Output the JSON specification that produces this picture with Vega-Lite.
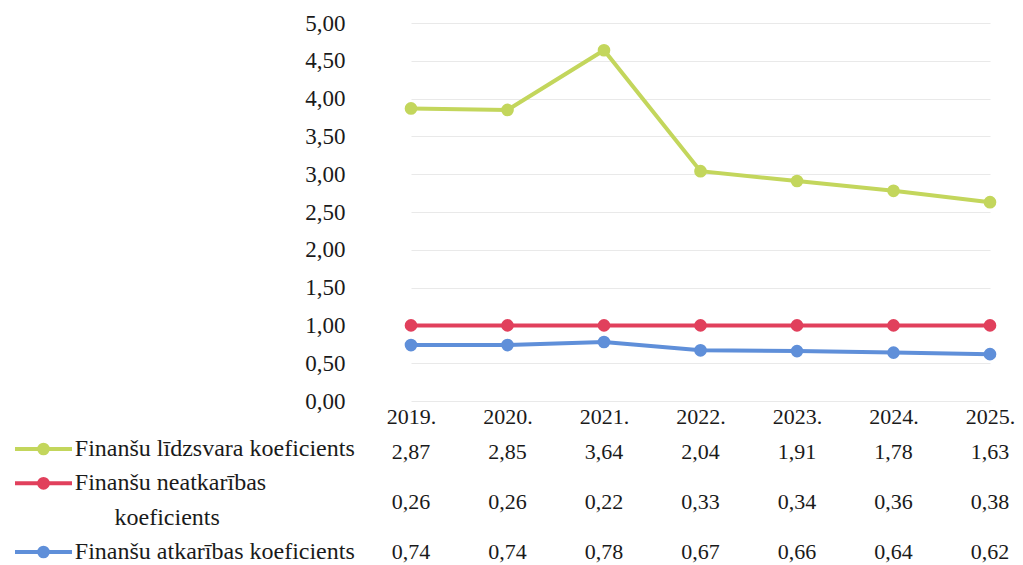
{
  "$schema": "https://vega.github.io/schema/vega-lite/v6.json",
  "autosize": {"type": "none"},
  "width": 663,
  "height": 378,
  "padding": {"left": 360, "top": 23, "right": 0, "bottom": 164},
  "background": "white",
  "config": {"view": {"stroke": null}, "font": "Liberation Serif", "text": {"font": "Liberation Serif"}},
  "datasets": {
    "vals": [
      {"year": "2019.", "series": "Finanšu līdzsvara koeficients", "ord": 3, "value": 2.87},
      {"year": "2019.", "series": "Finanšu neatkarības koeficients", "ord": 2, "value": 0.26},
      {"year": "2019.", "series": "Finanšu atkarības koeficients", "ord": 1, "value": 0.74},
      {"year": "2020.", "series": "Finanšu līdzsvara koeficients", "ord": 3, "value": 2.85},
      {"year": "2020.", "series": "Finanšu neatkarības koeficients", "ord": 2, "value": 0.26},
      {"year": "2020.", "series": "Finanšu atkarības koeficients", "ord": 1, "value": 0.74},
      {"year": "2021.", "series": "Finanšu līdzsvara koeficients", "ord": 3, "value": 3.64},
      {"year": "2021.", "series": "Finanšu neatkarības koeficients", "ord": 2, "value": 0.22},
      {"year": "2021.", "series": "Finanšu atkarības koeficients", "ord": 1, "value": 0.78},
      {"year": "2022.", "series": "Finanšu līdzsvara koeficients", "ord": 3, "value": 2.04},
      {"year": "2022.", "series": "Finanšu neatkarības koeficients", "ord": 2, "value": 0.33},
      {"year": "2022.", "series": "Finanšu atkarības koeficients", "ord": 1, "value": 0.67},
      {"year": "2023.", "series": "Finanšu līdzsvara koeficients", "ord": 3, "value": 1.91},
      {"year": "2023.", "series": "Finanšu neatkarības koeficients", "ord": 2, "value": 0.34},
      {"year": "2023.", "series": "Finanšu atkarības koeficients", "ord": 1, "value": 0.66},
      {"year": "2024.", "series": "Finanšu līdzsvara koeficients", "ord": 3, "value": 1.78},
      {"year": "2024.", "series": "Finanšu neatkarības koeficients", "ord": 2, "value": 0.36},
      {"year": "2024.", "series": "Finanšu atkarības koeficients", "ord": 1, "value": 0.64},
      {"year": "2025.", "series": "Finanšu līdzsvara koeficients", "ord": 3, "value": 1.63},
      {"year": "2025.", "series": "Finanšu neatkarības koeficients", "ord": 2, "value": 0.38},
      {"year": "2025.", "series": "Finanšu atkarības koeficients", "ord": 1, "value": 0.62}
    ],
    "legend": [
      {"series": "Finanšu līdzsvara koeficients", "key": "L"},
      {"series": "Finanšu neatkarības koeficients", "key": "N1"},
      {"series": "Finanšu atkarības koeficients", "key": "A"}
    ],
    "labels": [
      {"key": "L", "text": "Finanšu līdzsvara koeficients"},
      {"key": "N1", "text": "Finanšu neatkarības"},
      {"key": "N2", "text": "koeficients"},
      {"key": "A", "text": "Finanšu atkarības koeficients"}
    ]
  },
  "layer": [
    {
      "data": {"name": "vals"},
      "transform": [
        {"stack": "value", "groupby": ["year"], "sort": [{"field": "ord", "order": "ascending"}], "as": ["v0", "v1"]}
      ],
      "encoding": {
        "x": {
          "field": "year", "type": "ordinal",
          "scale": {"type": "point", "domain": ["2019.", "2020.", "2021.", "2022.", "2023.", "2024.", "2025."], "range": [51, 630], "padding": 0},
          "axis": {"title": null, "domain": false, "ticks": false, "grid": false, "labelFontSize": 22, "labelColor": "#1a1a1a", "labelPadding": 5, "labelFont": "Liberation Serif", "labelAngle": 0}
        },
        "y": {
          "field": "v1", "type": "quantitative",
          "scale": {"domain": [0, 5], "nice": false},
          "axis": {"title": null, "domain": false, "ticks": false, "values": [0, 0.5, 1, 1.5, 2, 2.5, 3, 3.5, 4, 4.5, 5], "labelExpr": "replace(format(datum.value, '.2f'), '.', ',')", "labelFontSize": 23, "labelColor": "#1a1a1a", "labelFont": "Liberation Serif", "labelPadding": 15, "gridColor": "#e9e9e9", "gridWidth": 1}
        },
        "color": {
          "field": "series", "type": "nominal",
          "scale": {"domain": ["Finanšu līdzsvara koeficients", "Finanšu neatkarības koeficients", "Finanšu atkarības koeficients"], "range": ["#c3d65c", "#e1405c", "#5f8fd9"]},
          "legend": null
        }
      },
      "layer": [
        {"mark": {"type": "line", "strokeWidth": 4}},
        {"mark": {"type": "circle", "size": 160, "opacity": 1}}
      ]
    },
    {
      "data": {"name": "vals"},
      "mark": {"type": "text", "fontSize": 22, "color": "#1a1a1a", "baseline": "middle", "text": {"expr": "replace(format(datum.value, '.2f'), '.', ',')"}},
      "encoding": {
        "x": {"field": "year", "type": "ordinal", "scale": {"type": "point", "domain": ["2019.", "2020.", "2021.", "2022.", "2023.", "2024.", "2025."], "range": [51, 630], "padding": 0}, "axis": null},
        "y": {"field": "series", "type": "nominal", "scale": {"type": "point", "domain": ["Finanšu līdzsvara koeficients", "Finanšu neatkarības koeficients", "Finanšu atkarības koeficients"], "range": [429, 529], "padding": 0}, "axis": null}
      }
    },
    {
      "layer": [
        {
          "data": {"name": "legend"},
          "mark": {"type": "rule", "strokeWidth": 4},
          "encoding": {
            "x": {"datum": 0, "type": "quantitative", "scale": {"domain": [0, 1], "range": [-345, -288]}, "axis": null},
            "x2": {"datum": 1},
            "y": {"field": "key", "type": "nominal", "scale": {"type": "point", "domain": ["L", "N1", "N2", "A"], "range": [426, 529], "padding": 0}, "axis": null},
            "color": {"field": "series", "type": "nominal", "legend": null}
          }
        },
        {
          "data": {"name": "legend"},
          "mark": {"type": "circle", "size": 160, "opacity": 1},
          "encoding": {
            "x": {"datum": 0.5, "type": "quantitative", "scale": {"domain": [0, 1], "range": [-345, -288]}, "axis": null},
            "y": {"field": "key", "type": "nominal", "scale": {"type": "point", "domain": ["L", "N1", "N2", "A"], "range": [426, 529], "padding": 0}, "axis": null},
            "color": {"field": "series", "type": "nominal", "legend": null}
          }
        },
        {
          "data": {"name": "labels"},
          "transform": [{"filter": "datum.key != 'N2'"}],
          "mark": {"type": "text", "align": "left", "baseline": "middle", "fontSize": 24, "color": "#1a1a1a"},
          "encoding": {
            "x": {"datum": 1.05, "type": "quantitative", "scale": {"domain": [0, 1], "range": [-345, -288]}, "axis": null},
            "y": {"field": "key", "type": "nominal", "scale": {"type": "point", "domain": ["L", "N1", "N2", "A"], "range": [426, 529], "padding": 0}, "axis": null},
            "text": {"field": "text"}
          }
        },
        {
          "data": {"name": "labels"},
          "transform": [{"filter": "datum.key == 'N2'"}],
          "mark": {"type": "text", "align": "center", "baseline": "middle", "fontSize": 24, "color": "#1a1a1a"},
          "encoding": {
            "x": {"datum": 2.67, "type": "quantitative", "scale": {"domain": [0, 1], "range": [-345, -288]}, "axis": null},
            "y": {"field": "key", "type": "nominal", "scale": {"type": "point", "domain": ["L", "N1", "N2", "A"], "range": [426, 529], "padding": 0}, "axis": null},
            "text": {"field": "text"}
          }
        }
      ]
    }
  ],
  "resolve": {"scale": {"x": "independent", "y": "independent"}}
}
